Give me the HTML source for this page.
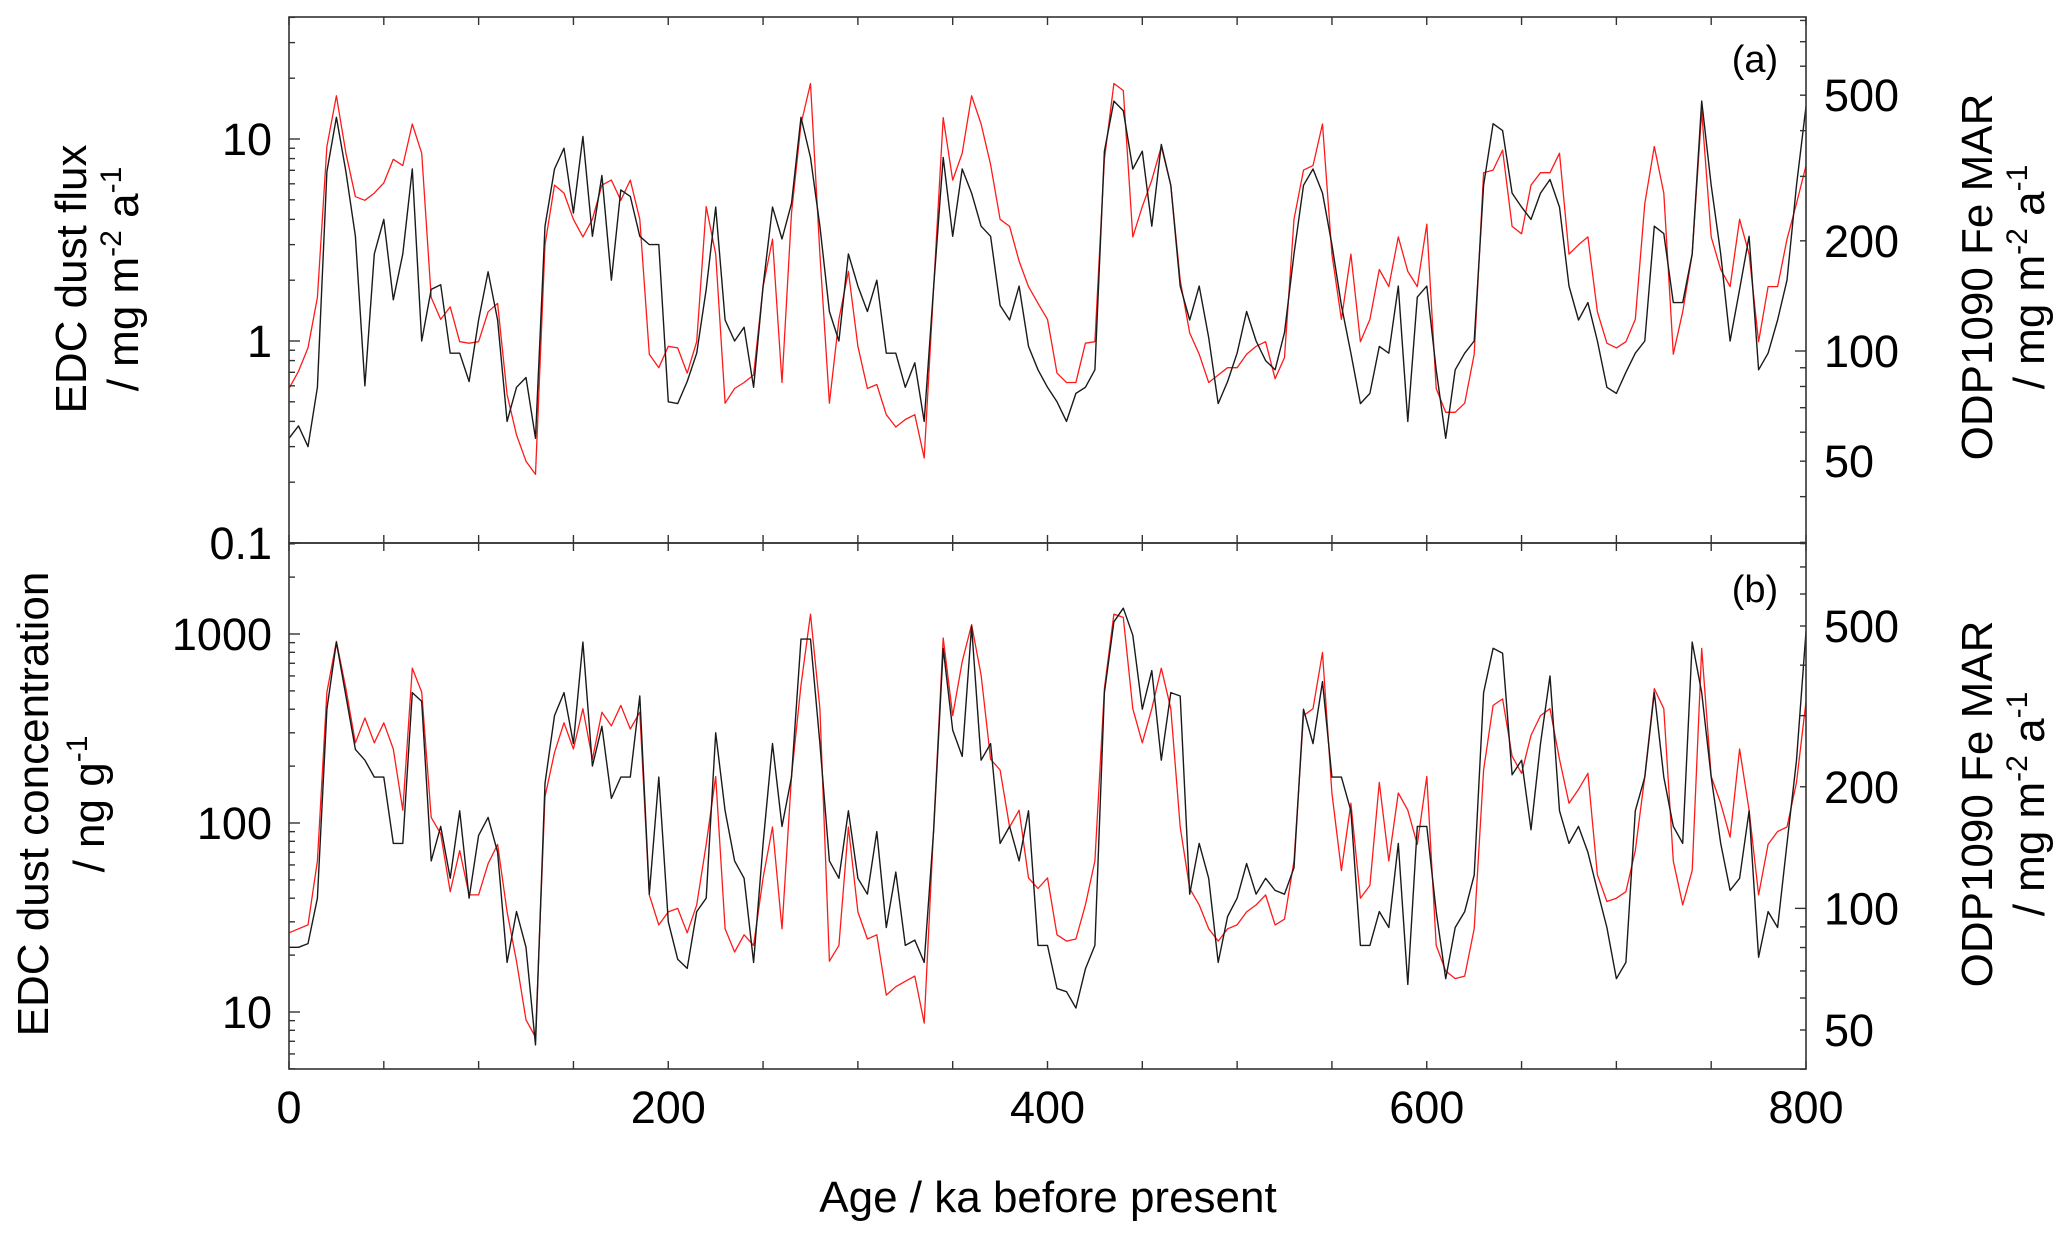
<!DOCTYPE html>
<html><head><meta charset="utf-8"><title>EDC dust vs ODP1090 Fe MAR</title>
<style>
html,body{margin:0;padding:0;background:#fff;}
svg{display:block;font-family:"Liberation Sans",Arial,sans-serif;}
</style></head>
<body>
<svg id="chart" width="2067" height="1238" viewBox="0 0 2067 1238" xmlns="http://www.w3.org/2000/svg">
  <g id="grid"></g>
  <g id="series"></g>
  <g id="axes"></g>
  <text x="1755" y="72" font-size="38" text-anchor="middle">(a)</text>
  <text x="1755" y="602" font-size="38" text-anchor="middle">(b)</text>
  <text x="1048" y="1212" font-size="44" text-anchor="middle">Age / ka before present</text>
  <g>
    <text transform="translate(86,279) rotate(-90)" font-size="44" text-anchor="middle">EDC dust flux</text>
    <text transform="translate(138,279) rotate(-90)" font-size="44" text-anchor="middle">/ mg m<tspan font-size="30" dy="-17">-2</tspan><tspan dy="17"> a</tspan><tspan font-size="30" dy="-17">-1</tspan></text>
  </g>
  <g>
    <text transform="translate(48,804) rotate(-90)" font-size="44" text-anchor="middle">EDC dust concentration</text>
    <text transform="translate(104,804) rotate(-90)" font-size="44" text-anchor="middle">/ ng g<tspan font-size="30" dy="-17">-1</tspan></text>
  </g>
  <g>
    <text transform="translate(1992,277) rotate(-90)" font-size="44" text-anchor="middle">ODP1090 Fe MAR</text>
    <text transform="translate(2044,277) rotate(-90)" font-size="44" text-anchor="middle">/ mg m<tspan font-size="30" dy="-17">-2</tspan><tspan dy="17"> a</tspan><tspan font-size="30" dy="-17">-1</tspan></text>
  </g>
  <g>
    <text transform="translate(1992,804) rotate(-90)" font-size="44" text-anchor="middle">ODP1090 Fe MAR</text>
    <text transform="translate(2044,804) rotate(-90)" font-size="44" text-anchor="middle">/ mg m<tspan font-size="30" dy="-17">-2</tspan><tspan dy="17"> a</tspan><tspan font-size="30" dy="-17">-1</tspan></text>
  </g>
</svg>
<script>
// ages: 0..800 ka every 5 ka
const ageStart = 0, ageStep = 5;
const xTickLabels = [0, 200, 400, 600, 800];
const topLeftLabels = [0.1, 1, 10];
const topRightLabels = [50, 100, 200, 500];
const botLeftLabels = [10, 100, 1000];
const botRightLabels = [50, 100, 200, 500];

// (a) EDC dust flux, mg m-2 a-1 (black)
const fluxEDC = [0.33,0.38,0.3,0.59,6.9,12.8,6.9,3.3,0.6,2.7,4.0,1.6,2.7,7.1,1.0,1.8,1.9,0.87,0.87,0.63,1.27,2.2,1.27,0.40,0.59,0.66,0.33,3.7,7.1,9,4.3,10.3,3.3,6.6,2.0,5.6,5.2,3.3,3.0,3.0,0.5,
0.49,0.63,0.87,1.8,4.6,1.27,1.0,1.17,0.59,1.87,4.6,3.2,4.8,12.8,8.1,3.7,1.4,1.0,2.7,1.87,1.4,2.0,0.87,0.87,0.59,0.78,0.40,1.87,8.1,3.3,7.1,5.4,3.7,3.3,1.5,1.27,1.87,0.94,0.72,0.59,
0.5,0.40,0.55,0.59,0.72,8.7,15.4,13.8,7.1,8.7,3.7,9.4,5.9,1.87,1.27,1.87,1.04,0.49,0.63,0.87,1.4,1.0,0.80,0.72,1.1,2.7,5.9,7.1,5.4,3.0,1.5,0.87,0.49,0.55,0.94,0.87,1.87,0.40,1.65,1.87,
0.72,0.33,0.72,0.87,1.0,5.9,11.9,11,5.4,4.6,4.0,5.4,6.3,4.6,1.87,1.27,1.55,1.0,0.59,0.55,0.70,0.87,1.0,3.7,3.4,1.55,1.55,2.7,15.4,5.9,2.7,1.0,1.8,3.3,0.72,0.87,1.27,2.0,5.9,14.5];
// (a) ODP1090 Fe MAR (red, right axis)
const feTop = [79,88,102,140,362,498,347,264,258,270,288,334,321,417,347,140,122,132,106,105,106,128,135,76,59,50,46,195,284,270,229,205,229,284,293,258,293,229,98,90,103,
102,87,106,248,184,72,79,82,86,150,202,82,238,417,538,184,72,122,165,103,79,81,67,62,65,67,51,150,434,293,347,498,417,323,229,219,176,150,135,122,
87,82,82,105,106,334,538,515,205,248,293,362,284,156,112,98,82,86,90,90,98,103,106,84,96,229,312,321,417,184,122,184,106,122,167,150,205,165,150,222,
79,68,68,72,98,307,312,354,219,209,284,307,307,347,184,195,205,128,105,102,106,122,253,362,270,98,128,184,452,205,167,150,229,184,106,150,150,202,253,321];
// (b) EDC dust concentration, ng g-1 (black)
const concEDC = [22,22,23,40,400,906,470,245,215,175,175,78,78,490,440,63,96,51,116,40,86,107,70,18.3,34,22,6.7,162,370,490,263,906,200,325,135,175,175,470,42,175,30,
19,17,34,40,300,116,63,51,18.3,78,263,96,175,940,940,263,63,51,116,51,42,90,28,55,22.5,24,18.3,92,840,310,225,1100,215,263,78,96,63,116,22.5,22.5,
13.3,12.8,10.5,16.9,22.5,490,1160,1370,985,400,640,215,490,470,42,78,51,18.3,32,40,61,42,51,44,42,58,400,263,560,175,175,116,22.5,22.5,34,28,78,14,96,96,
34,15,28,34,53,490,840,790,180,215,92,263,600,116,78,96,70,44,28,15,18.3,116,175,490,175,96,78,906,490,175,78,44,51,116,19.5,34,28,78,215,1030];
// (b) ODP1090 Fe MAR (red, right axis)
const feBot = [87,89,91,131,343,458,350,257,296,257,288,248,175,393,343,168,153,110,139,108,108,129,144,98,74,53,48,189,243,288,248,312,234,306,283,318,278,306,108,91,98,
100,87,102,144,212,89,78,86,81,119,159,89,212,357,535,312,74,81,159,98,84,86,61,64,66,68,52,159,467,300,408,504,378,234,220,159,175,119,112,119,
86,83,84,102,131,350,535,525,312,257,312,393,312,159,112,102,89,83,89,91,98,102,108,91,94,131,300,312,430,193,124,182,106,114,205,131,193,175,144,212,
81,70,67,68,89,220,318,330,238,216,268,300,312,234,182,197,216,121,104,106,110,139,212,350,312,131,102,124,440,212,182,150,248,175,108,144,155,159,205,325];

const NS = 'http://www.w3.org/2000/svg';
const L = 289, R = 1806, T1 = 17, M = 543, B2 = 1069;
function xScale(a){ return L + (a - 0) / 800 * (R - L); }
function yTopL(v){ return 139 - (Math.log10(v) - 1) * 202; }
function yTopR(v){ return 351 - (Math.log10(v) - 2) * 366; }
function yBotL(v){ return 634 - (Math.log10(v) - 3) * 189; }
function yBotR(v){ return 626 - (Math.log10(v) - Math.log10(500)) * 404; }

function mk(tag, attrs, parent){
  const e = document.createElementNS(NS, tag);
  for (const k in attrs) e.setAttribute(k, attrs[k]);
  parent.appendChild(e);
  return e;
}
const series = document.getElementById('series');
const axes = document.getElementById('axes');
const defs = mk('defs', {}, document.getElementById('chart'));
const c1 = mk('clipPath', {id: 'clipTop'}, defs); mk('rect', {x: L, y: T1, width: R - L, height: M - T1}, c1);
const c2 = mk('clipPath', {id: 'clipBot'}, defs); mk('rect', {x: L, y: M, width: R - L, height: B2 - M}, c2);
const gTop = mk('g', {'clip-path': 'url(#clipTop)'}, series);
const gBot = mk('g', {'clip-path': 'url(#clipBot)'}, series);

function drawLine(vals, yf, color, w, name, parent){
  let d = '';
  vals.forEach((v, i) => {
    const x = xScale(ageStart + i * ageStep), y = yf(v);
    d += (i ? 'L' : 'M') + x.toFixed(1) + ' ' + y.toFixed(1);
  });
  const p = mk('path', {d: d, fill: 'none', stroke: color, 'stroke-width': w, 'stroke-linejoin': 'round'}, parent);
  
  
}
drawLine(feTop, yTopR, '#ff1a1a', 1.3, 'series-fe-mar-top', gTop);
drawLine(fluxEDC, yTopL, '#1a1a1a', 1.4, 'series-edc-flux', gTop);
drawLine(feBot, yBotR, '#ff1a1a', 1.3, 'series-fe-mar-bottom', gBot);
drawLine(concEDC, yBotL, '#1a1a1a', 1.4, 'series-edc-concentration', gBot);

const f1 = mk('rect', {x: L, y: T1, width: R - L, height: M - T1, fill: 'none', stroke: '#333', 'stroke-width': 1.6}, axes);


const f2 = mk('rect', {x: L, y: M, width: R - L, height: B2 - M, fill: 'none', stroke: '#333', 'stroke-width': 1.6}, axes);



for (let a = 0; a <= 800; a += 50){
  const x = xScale(a);
  [[T1, 8], [M, -8], [M, 8], [B2, -8]].forEach(([y, d]) => {
    mk('line', {x1: x, x2: x, y1: y, y2: y + d, stroke: '#333', 'stroke-width': 1.4}, axes);
  });
}
xTickLabels.forEach(a => {
  const t = mk('text', {x: xScale(a), y: 1123, 'font-size': 45, 'text-anchor': 'middle'}, axes);
  t.textContent = a;
  
  
});

function logTicks(yf, lo, hi, yMin, yMax, xAxis, dir){
  for (let e = -2; e <= 4; e++){
    for (let m = 1; m <= 9; m++){
      const v = m * Math.pow(10, e);
      if (v < lo || v > hi) continue;
      const y = yf(v);
      if (y < yMin - 0.5 || y > yMax + 0.5) continue;
      const len = m === 1 ? 11 : 6;
      mk('line', {x1: xAxis, x2: xAxis + dir * len, y1: y, y2: y, stroke: '#333', 'stroke-width': 1.4}, axes);
    }
  }
}
logTicks(yTopL, 0.1, 45, T1, M, L, 1);
logTicks(yTopR, 20, 900, T1, M, R, -1);
logTicks(yBotL, 4, 4000, M, B2, L, 1);
logTicks(yBotR, 30, 900, M, B2, R, -1);

function labels(arr, yf, x, anchor, name){
  arr.forEach(v => {
    const t = mk('text', {x: x, y: yf(v) + 16, 'font-size': 45, 'text-anchor': anchor}, axes);
    t.textContent = v;
    
    
  });
}
labels(topLeftLabels, yTopL, 272, 'end', 'y-tick-label-top-left');
labels(topRightLabels, yTopR, 1824, 'start', 'y-tick-label-top-right');
labels(botLeftLabels, yBotL, 272, 'end', 'y-tick-label-bottom-left');
labels(botRightLabels, yBotR, 1824, 'start', 'y-tick-label-bottom-right');
</script>
</body></html>
